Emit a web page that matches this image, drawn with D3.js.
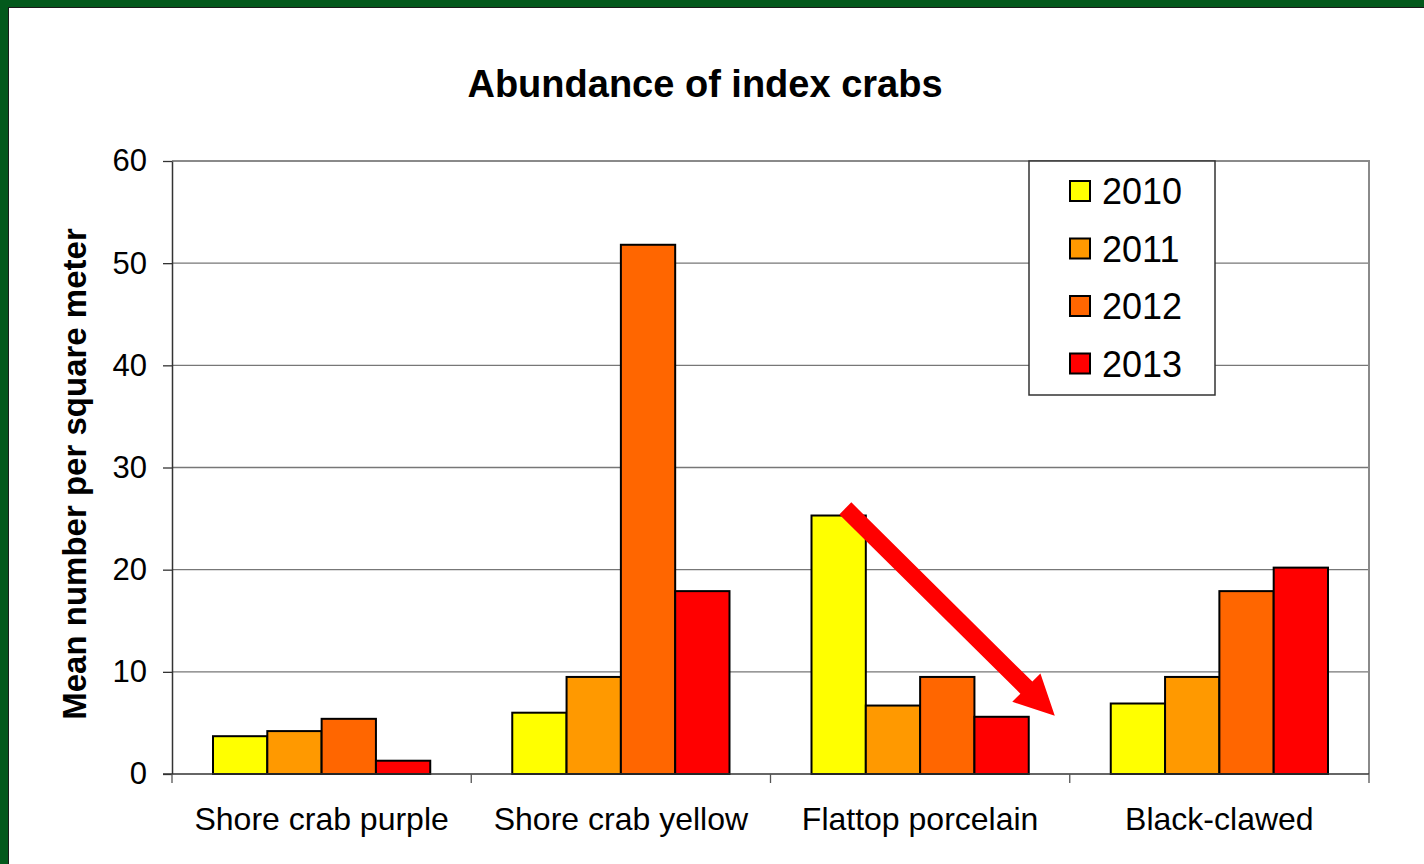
<!DOCTYPE html>
<html>
<head>
<meta charset="utf-8">
<script src="https://cdn.jsdelivr.net/npm/d3@7"></script>
<style>
  html, body { margin: 0; padding: 0; background: #ffffff; }
  svg { display: block; font-family: "Liberation Sans", Arial, sans-serif; }
</style>
</head>
<body>
<svg id="chart" width="1424" height="864"></svg>
<script>
// data
const categories = ['Shore crab purple', 'Shore crab yellow', 'Flattop porcelain', 'Black-clawed'];
const years = ['2010', '2011', '2012', '2013'];
const values2010 = [3.7, 6.0, 25.3, 6.9];
const values2011 = [4.2, 9.5, 6.7, 9.5];
const values2012 = [5.4, 51.8, 9.5, 17.9];
const values2013 = [1.3, 17.9, 5.6, 20.2];
const yTicks = [0, 10, 20, 30, 40, 50, 60];
const colors = ['#ffff00', '#ff9900', '#ff6600', '#ff0000'];
// arrow annotation: category + fraction of band, value
const arrowFrom = { cat: 'Flattop porcelain', frac: 0.25, value: 26.0 };
const arrowTo = { cat: 'Flattop porcelain', frac: 0.95, value: 5.7 };

const series = [values2010, values2011, values2012, values2013];

const svg = d3.select('#chart'),
  width = 1424,
  height = 864,
  margin = { top: 161, right: 55, bottom: 90, left: 172 };

// green frame
svg.append('rect').attr('x', 0).attr('y', 0).attr('width', width).attr('height', height).attr('fill', '#03591c');
svg.append('rect').attr('x', 8.5).attr('y', 7.5).attr('width', width).attr('height', height)
  .attr('fill', '#ffffff').attr('stroke', '#1a1a1a').attr('stroke-width', 1);

const x0 = d3.scaleBand().domain(categories).range([margin.left, width - margin.right]).padding(0),
  x1 = d3.scaleBand().domain(years).range([0, x0.bandwidth()]).paddingInner(0).paddingOuter(0.755),
  y = d3.scaleLinear().domain([0, 60]).range([height - margin.bottom, margin.top]);

const plotL = x0.range()[0], plotR = x0.range()[1];

// gridlines
svg.append('g')
  .selectAll('line')
  .data(yTicks.filter(t => t > 0))
  .join('line')
  .attr('x1', plotL).attr('x2', plotR)
  .attr('y1', d => y(d)).attr('y2', d => y(d))
  .attr('stroke', '#777777')
  .attr('stroke-width', 1.3);

// plot frame top/right
svg.append('path')
  .attr('d', `M${plotL},${y(60)}H${plotR}V${y(0)}`)
  .attr('fill', 'none')
  .attr('stroke', '#8a8a8a')
  .attr('stroke-width', 2);

// bars
const groups = svg.append('g')
  .selectAll('g')
  .data(categories)
  .join('g')
  .attr('transform', d => `translate(${x0(d)},0)`);

groups.selectAll('rect')
  .data((d, i) => years.map((yr, j) => ({ yr, v: series[j][i], c: colors[j] })))
  .join('rect')
  .attr('x', d => x1(d.yr))
  .attr('y', d => y(d.v))
  .attr('width', x1.bandwidth())
  .attr('height', d => y(0) - y(d.v))
  .attr('fill', d => d.c)
  .attr('stroke', '#000000')
  .attr('stroke-width', 2);

// y axis
const yAxis = svg.append('g')
  .attr('transform', `translate(${plotL},0)`)
  .call(d3.axisLeft(y).tickValues(yTicks).tickSize(9).tickPadding(16).tickSizeOuter(0));
yAxis.select('.domain').attr('stroke', '#333333').attr('stroke-width', 1.5);
yAxis.selectAll('.tick line').attr('stroke', '#333333').attr('stroke-width', 1.3);
yAxis.selectAll('.tick text').attr('font-size', 31).attr('fill', '#000000')
  .attr('font-family', '"Liberation Sans", Arial, sans-serif');

// x axis
const xAxis = svg.append('g')
  .attr('transform', `translate(0,${y(0)})`);
xAxis.append('line')
  .attr('x1', plotL - 9).attr('x2', plotR)
  .attr('y1', 0).attr('y2', 0)
  .attr('stroke', '#333333').attr('stroke-width', 1.5);
xAxis.selectAll('line.tk')
  .data(categories.map(c => x0(c)).concat([plotR]))
  .join('line')
  .attr('class', 'tk')
  .attr('x1', d => d).attr('x2', d => d)
  .attr('y1', 0).attr('y2', 9)
  .attr('stroke', '#555555').attr('stroke-width', 1.3);
xAxis.selectAll('text')
  .data(categories)
  .join('text')
  .attr('x', d => x0(d) + x0.bandwidth() / 2)
  .attr('y', 56)
  .attr('text-anchor', 'middle')
  .attr('font-size', 32)
  .attr('fill', '#000000')
  .text(d => d);

// title
svg.append('text')
  .attr('x', 705)
  .attr('y', 97)
  .attr('text-anchor', 'middle')
  .attr('font-size', 38)
  .attr('font-weight', 'bold')
  .text('Abundance of index crabs');

// y label
svg.append('text')
  .attr('transform', `translate(86,474) rotate(-90)`)
  .attr('text-anchor', 'middle')
  .attr('font-size', 33)
  .attr('font-weight', 'bold')
  .text('Mean number per square meter');

// legend
const legend = svg.append('g').attr('transform', `translate(1029,${y(60)})`);
legend.append('rect')
  .attr('width', 186).attr('height', 234)
  .attr('fill', '#ffffff').attr('stroke', '#333333').attr('stroke-width', 1.5);
const items = legend.selectAll('g')
  .data(years)
  .join('g')
  .attr('transform', (d, i) => `translate(0,${30 + i * 57.5})`);
items.append('rect')
  .attr('x', 41).attr('y', -10).attr('width', 20).attr('height', 20)
  .attr('fill', (d, i) => colors[i]).attr('stroke', '#000000').attr('stroke-width', 2);
items.append('text')
  .attr('x', 73).attr('y', 13)
  .attr('font-size', 36)
  .text(d => d);

// arrow
const ax1 = x0(arrowFrom.cat) + arrowFrom.frac * x0.bandwidth(), ay1 = y(arrowFrom.value),
  ax2 = x0(arrowTo.cat) + arrowTo.frac * x0.bandwidth(), ay2 = y(arrowTo.value);
const ang = Math.atan2(ay2 - ay1, ax2 - ax1),
  len = Math.hypot(ax2 - ax1, ay2 - ay1),
  headLen = 40, headW = 20, shaftW = 8.5;
svg.append('path')
  .attr('transform', `translate(${ax1},${ay1}) rotate(${ang * 180 / Math.PI})`)
  .attr('d', `M0,${-shaftW}L${len - headLen},${-shaftW}L${len - headLen},${-headW}L${len},0L${len - headLen},${headW}L${len - headLen},${shaftW}L0,${shaftW}Z`)
  .attr('fill', '#ff0000');
</script>
</body>
</html>
